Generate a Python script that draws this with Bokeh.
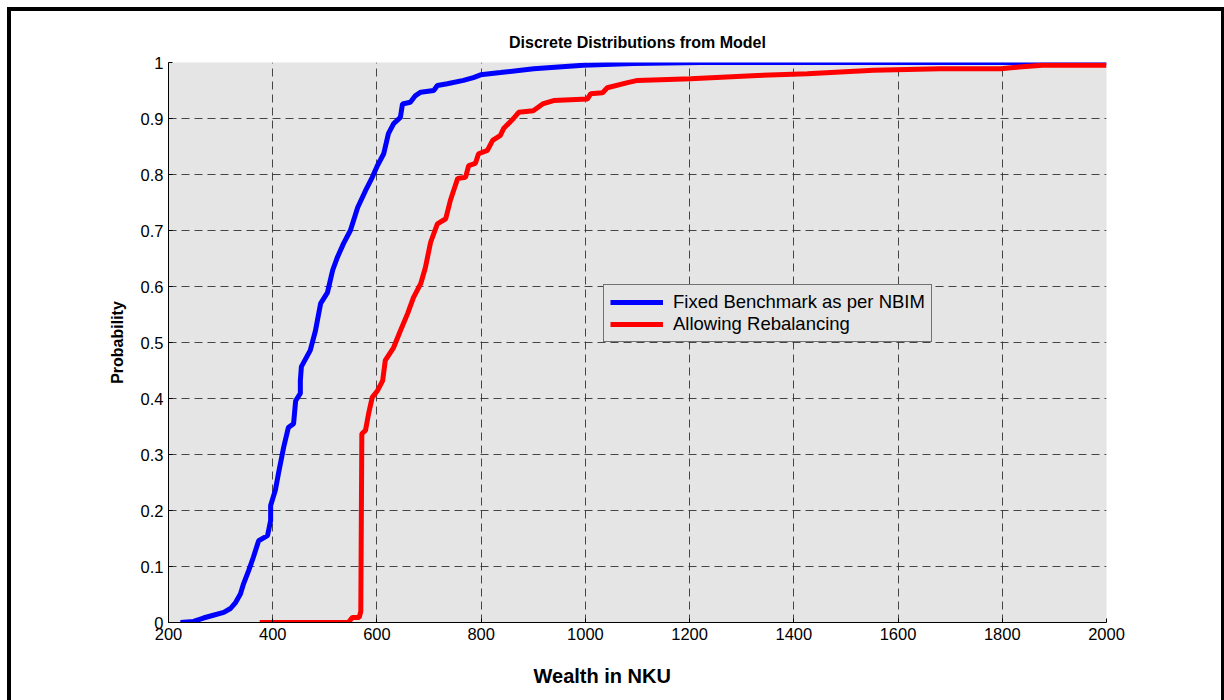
from bokeh.plotting import figure
from bokeh.layouts import column
from bokeh.embed import file_html
from bokeh.resources import INLINE
from bokeh.models import (FixedTicker, CustomJSTickFormatter, Legend, LegendItem, Title)

# ---------------- data ----------------
title_text = "Discrete Distributions from Model"
x_label = "Wealth in NKU"
y_label = "Probability"
series_names = ["Fixed Benchmark as per NBIM", "Allowing Rebalancing"]

x_ticks = [200, 400, 600, 800, 1000, 1200, 1400, 1600, 1800, 2000]
y_ticks = [0.0, 0.1, 0.2, 0.3, 0.4, 0.5, 0.6, 0.7, 0.8, 0.9, 1.0]

fixed_x = [223, 248, 267, 286, 306, 319, 329, 338, 344, 354, 363, 373, 390, 396,
           396, 405, 411, 421, 430, 440, 444, 453, 453, 455, 472, 482, 492, 505,
           515, 524, 536, 549, 563, 578, 591, 601, 613, 622, 632, 645, 649, 664,
           674, 684, 709, 716, 735, 766, 785, 799, 837, 901, 996, 1092, 1221, 2000]
fixed_y = [0.0, 0.002, 0.008, 0.013, 0.018, 0.025, 0.036, 0.051, 0.069, 0.093,
           0.117, 0.146, 0.155, 0.182, 0.209, 0.236, 0.266, 0.313, 0.348, 0.355,
           0.396, 0.409, 0.432, 0.457, 0.486, 0.521, 0.57, 0.589, 0.629, 0.652,
           0.677, 0.70, 0.741, 0.771, 0.795, 0.816, 0.837, 0.873, 0.891, 0.902,
           0.926, 0.929, 0.941, 0.947, 0.95, 0.959, 0.962, 0.968, 0.973, 0.978,
           0.982, 0.989, 0.995, 0.998, 1.0, 1.0]

rebal_x = [375, 545, 553, 566, 569, 571, 578, 584, 591, 601, 611, 616, 632, 645,
           659, 670, 684, 693, 703, 716, 732, 741, 747, 755, 770, 776, 789, 795,
           812, 822, 837, 843, 862, 872, 900, 918, 939, 1004, 1010, 1033, 1042,
           1081, 1100, 1202, 1330, 1426, 1553, 1681, 1797, 1822, 1877, 2000]
rebal_y = [0.0, 0.0, 0.009, 0.009, 0.02, 0.337, 0.343, 0.373, 0.402, 0.414,
           0.432, 0.468, 0.491, 0.521, 0.552, 0.58, 0.605, 0.634, 0.679, 0.712,
           0.721, 0.754, 0.771, 0.793, 0.795, 0.816, 0.82, 0.837, 0.843, 0.861,
           0.87, 0.882, 0.9, 0.911, 0.914, 0.926, 0.932, 0.935, 0.944, 0.946,
           0.955, 0.964, 0.968, 0.971, 0.977, 0.98, 0.986, 0.989, 0.989, 0.991,
           0.995, 0.995]

# ---------------- figure ----------------
FONT = "Liberation Sans"

p = figure(width=1210, height=689, x_range=(200, 2000), y_range=(0, 1),
           output_backend="svg", toolbar_location=None,
           min_border_left=157, min_border_right=115,
           min_border_top=51, min_border_bottom=78,
           background_fill_color="#e5e5e5", border_fill_color="white")
p.outline_line_color = None

p.title.text = title_text
p.title.align = "center"
p.title.text_font = FONT
p.title.text_font_size = "16px"
p.title.text_font_style = "bold"
p.title.text_color = "black"
p.title.standoff = 24

for ax in (p.xaxis[0], p.yaxis[0]):
    ax.axis_line_color = "black"
    ax.axis_line_width = 1
    ax.major_tick_in = 4
    ax.major_tick_out = 0
    ax.major_tick_line_color = "black"
    ax.minor_tick_line_color = None
    ax.major_label_text_font = FONT
    ax.major_label_text_font_size = "16.5px"
    ax.major_label_text_color = "black"

p.xaxis.ticker = FixedTicker(ticks=x_ticks)
p.xaxis.major_label_standoff = 5
p.yaxis.ticker = FixedTicker(ticks=y_ticks)
p.yaxis.formatter = CustomJSTickFormatter(code="return String(Number(tick.toFixed(1)));")
p.yaxis.major_label_standoff = 5
p.yaxis.axis_label = y_label
p.yaxis.axis_label_text_font = FONT
p.yaxis.axis_label_text_font_size = "16px"
p.yaxis.axis_label_text_font_style = "bold"
p.yaxis.axis_label_text_color = "black"
p.yaxis.axis_label_standoff = 12

for g in (p.xgrid[0], p.ygrid[0]):
    g.grid_line_color = "#333333"
    g.grid_line_dash = "8 5"
    g.grid_line_width = 1
    g.grid_line_alpha = 0.9

r1 = p.line(fixed_x, fixed_y, line_color="#0000ff", line_width=5)
r2 = p.line(rebal_x, rebal_y, line_color="#ff0000", line_width=5)

legend = Legend(items=[LegendItem(label=series_names[0], renderers=[r1]),
                       LegendItem(label=series_names[1], renderers=[r2])],
                location=(435, 280), orientation="vertical",
                background_fill_color="#e5e5e5", background_fill_alpha=1.0,
                border_line_color="black", border_line_width=1,
                label_text_font=FONT, label_text_font_size="18.5px",
                label_text_color="black",
                glyph_width=53, glyph_height=20, label_standoff=10,
                padding=6, spacing=0, margin=0)
p.add_layout(legend, "center")

xlab = Title(text=x_label, align="left", offset=365, standoff=2,
             vertical_align="top",
             padding=dict(left=0, right=0, top=21, bottom=0),
             text_font=FONT, text_font_size="20px", text_font_style="bold",
             text_color="black")
p.add_layout(xlab, "below")

page = column(p, margin=(7, 0, 0, 7),
              styles={"border-left": "4px solid black",
                      "border-top": "4px solid black",
                      "border-right": "4px solid black",
                      "background": "white"})

open("out.html", "w").write(file_html(page, INLINE))
